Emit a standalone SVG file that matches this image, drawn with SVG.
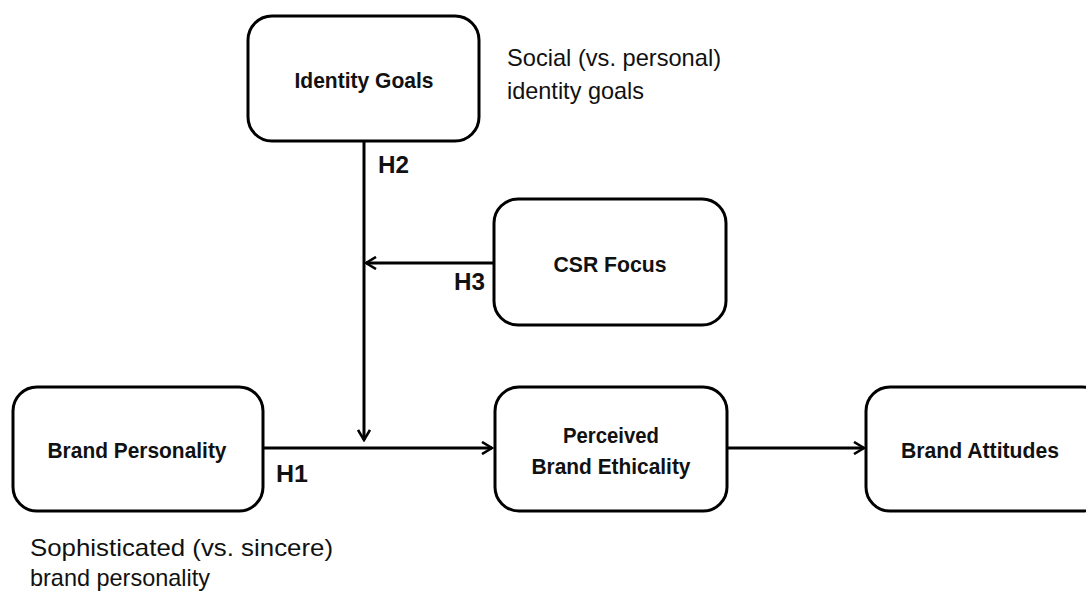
<svg xmlns="http://www.w3.org/2000/svg" width="1086" height="592" viewBox="0 0 1086 592">
  <style>
    .box { fill: #ffffff; stroke: #000000; stroke-width: 3; }
    .lbl { font-family: "Liberation Sans", Arial, sans-serif; font-weight: bold; font-size: 21.5px; fill: #111111; text-anchor: middle; }
    .hyp { font-family: "Liberation Sans", Arial, sans-serif; font-weight: bold; font-size: 23.5px; fill: #111111; }
    .note { font-family: "Liberation Sans", Arial, sans-serif; font-size: 24px; fill: #111111; }
    .link { fill: none; stroke: #000000; stroke-width: 3; }
  </style>
  <defs>
    <marker id="arrow" viewBox="0 0 14 14" refX="12" refY="7" markerWidth="14" markerHeight="14" markerUnits="userSpaceOnUse" orient="auto">
      <path d="M2,1 L12,7 L2,13" fill="none" stroke="#000000" stroke-width="2.6"/>
    </marker>
  </defs>
  <rect width="1086" height="592" fill="#ffffff"/>

  <!-- connectors -->
  <g id="connectors">
    <line class="link" x1="364" y1="141" x2="364" y2="440" marker-end="url(#arrow)"/>
    <line class="link" x1="494" y1="263" x2="366" y2="263" marker-end="url(#arrow)"/>
    <line class="link" x1="263" y1="448" x2="492" y2="448" marker-end="url(#arrow)"/>
    <line class="link" x1="727" y1="448" x2="864" y2="448" marker-end="url(#arrow)"/>
  </g>

  <!-- hypothesis labels -->
  <g id="hypotheses">
    <text class="hyp" x="378" y="173" textLength="31" lengthAdjust="spacingAndGlyphs">H2</text>
    <text class="hyp" x="454" y="290" textLength="31" lengthAdjust="spacingAndGlyphs">H3</text>
    <text class="hyp" x="276" y="482" textLength="32" lengthAdjust="spacingAndGlyphs">H1</text>
  </g>

  <g id="identity-goals">
    <rect class="box" x="248" y="16" width="231" height="125" rx="24"/>
    <text class="lbl" x="364" y="88" textLength="139" lengthAdjust="spacingAndGlyphs">Identity Goals</text>
  </g>

  <g id="csr-focus">
    <rect class="box" x="494" y="199" width="232" height="126" rx="24"/>
    <text class="lbl" x="610" y="272" textLength="113" lengthAdjust="spacingAndGlyphs">CSR Focus</text>
  </g>

  <g id="brand-personality">
    <rect class="box" x="13" y="387" width="250" height="124" rx="24"/>
    <text class="lbl" x="137" y="458" textLength="179" lengthAdjust="spacingAndGlyphs">Brand Personality</text>
  </g>

  <g id="perceived-brand-ethicality">
    <rect class="box" x="495" y="387" width="232" height="124" rx="24"/>
    <text class="lbl" x="611" y="443" textLength="96" lengthAdjust="spacingAndGlyphs">Perceived</text>
    <text class="lbl" x="611" y="474" textLength="159" lengthAdjust="spacingAndGlyphs">Brand Ethicality</text>
  </g>

  <g id="brand-attitudes">
    <rect class="box" x="866" y="387" width="240" height="124" rx="24"/>
    <text class="lbl" x="980" y="458" textLength="158" lengthAdjust="spacingAndGlyphs">Brand Attitudes</text>
  </g>

  <!-- variable annotations -->
  <g id="identity-note">
    <text class="note" x="507" y="66" textLength="214" lengthAdjust="spacingAndGlyphs">Social (vs. personal)</text>
    <text class="note" x="507" y="99" textLength="137" lengthAdjust="spacingAndGlyphs">identity goals</text>
  </g>
  <g id="personality-note">
    <text class="note" x="30" y="556" textLength="303" lengthAdjust="spacingAndGlyphs">Sophisticated (vs. sincere)</text>
    <text class="note" x="30" y="586" textLength="180" lengthAdjust="spacingAndGlyphs">brand personality</text>
  </g>
</svg>
